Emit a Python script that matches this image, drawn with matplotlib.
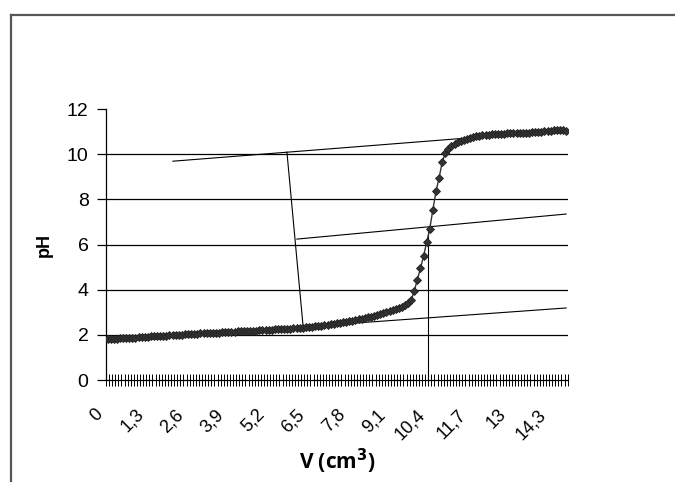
import numpy as np
import matplotlib
matplotlib.use("Agg")
import matplotlib.pyplot as plt
from matplotlib.lines import Line2D
from matplotlib.transforms import ScaledTranslation

# pH readings, one per 0,1 cm3 added (0 .. 14,8 cm3)
ph = [
    1.80, 1.81, 1.82, 1.83, 1.84, 1.85, 1.86, 1.86, 1.87, 1.88,
    1.89, 1.90, 1.91, 1.92, 1.93, 1.93, 1.94, 1.95, 1.96, 1.97,
    1.98, 1.99, 2.00, 2.00, 2.01, 2.02, 2.03, 2.04, 2.04, 2.05,
    2.06, 2.07, 2.07, 2.08, 2.09, 2.10, 2.10, 2.11, 2.12, 2.13,
    2.13, 2.14, 2.15, 2.16, 2.16, 2.17, 2.18, 2.19, 2.19, 2.20,
    2.21, 2.22, 2.22, 2.23, 2.24, 2.25, 2.25, 2.26, 2.27, 2.28,
    2.29, 2.30, 2.31, 2.32, 2.34, 2.35, 2.36, 2.38, 2.40, 2.41,
    2.43, 2.45, 2.47, 2.49, 2.51, 2.53, 2.55, 2.57, 2.60, 2.62,
    2.65, 2.68, 2.71, 2.74, 2.77, 2.81, 2.84, 2.88, 2.92, 2.96,
    3.00, 3.04, 3.09, 3.14, 3.19, 3.25, 3.32, 3.40, 3.55, 3.95,
    4.45, 4.95, 5.50, 6.10, 6.70, 7.55, 8.35, 8.95, 9.65, 10.05,
    10.25, 10.38, 10.47, 10.54, 10.60, 10.65, 10.69, 10.73, 10.76, 10.79,
    10.82, 10.84, 10.86, 10.87, 10.88, 10.89, 10.90, 10.91, 10.91, 10.92,
    10.93, 10.93, 10.94, 10.94, 10.95, 10.96, 10.96, 10.97, 10.98, 10.99,
    11.00, 11.01, 11.02, 11.04, 11.05, 11.06, 11.06, 11.05, 11.04,
]

# category labels shown on the x axis (every 13th point)
vol_labels = ["0", "1,3", "2,6", "3,9", "5,2", "6,5", "7,8", "9,1",
              "10,4", "11,7", "13", "14,3"]

# construction lines (volume cm3, pH) start -> end
tangent_low = [(-0.05, 1.73), (14.8, 3.19)]
tangent_high = [(2.11, 9.69), (14.8, 11.06)]
mid_line = [(6.11, 6.24), (14.8, 7.35)]
perp_line = [(5.79, 10.09), (6.31, 2.40)]
equiv_line = [(10.34, 0.0), (10.34, 6.78)]

y_ticks = [0, 2, 4, 6, 8, 10, 12]

fig = plt.figure(figsize=(6.75, 4.82), dpi=100)
ax = fig.add_axes([0.157, 0.2116, 0.684, 0.5622])

n = len(ph)
idx = np.arange(n)

# gridlines
for yv in y_ticks[1:-1]:
    ax.axhline(yv, color="black", lw=0.9, zorder=1)

# construction lines (category axis -> index = volume*10)
for seg in [tangent_low, tangent_high, mid_line, perp_line, equiv_line]:
    xs = [p[0] * 10 for p in seg]
    ys = [p[1] for p in seg]
    ax.plot(xs, ys, color="black", lw=0.8, zorder=2)

ax.plot(idx, ph, color="#333333", lw=1.0, marker="D", markersize=3.8,
        markerfacecolor="#333333", markeredgecolor="#222222",
        markeredgewidth=0.6, zorder=3)

ax.set_xlim(-0.5, n - 0.5)
ax.set_ylim(0, 12)

ax.spines["top"].set_visible(False)
ax.spines["right"].set_visible(False)
ax.spines["left"].set_linewidth(0.9)
ax.spines["bottom"].set_linewidth(0.9)

ax.set_yticks(y_ticks)
ax.set_yticklabels([str(v) for v in y_ticks])
ax.tick_params(axis="y", direction="out", length=6.5, width=0.9, pad=6,
               labelsize=14)

label_pos = [round(float(s.replace(",", ".")) * 10) for s in vol_labels]
ax.set_xticks(label_pos)
ax.set_xticklabels(vol_labels, rotation=45, ha="right", va="center",
                   rotation_mode="anchor")
ax.tick_params(axis="x", which="major", length=0, pad=23, labelsize=13)
ax.set_xticks(np.arange(n + 1) - 0.5, minor=True)
ax.tick_params(axis="x", which="minor", direction="inout", length=8.5,
               width=0.7)

shift = ScaledTranslation(-5 / 72, 0, fig.dpi_scale_trans)
for lab in ax.get_xticklabels():
    lab.set_transform(lab.get_transform() + shift)
for lab in ax.get_xticklabels() + ax.get_yticklabels():
    lab.set_fontfamily("Liberation Sans")

ax.set_ylabel("pH", fontsize=13, fontweight="bold", family="Liberation Sans",
              labelpad=10)
ax.set_xlabel(r"V (cm$^{\mathbf{3}}$)", fontsize=15, fontweight="bold",
              family="Open Sans", labelpad=3)

# outer frame (left and top edges only)
fig.add_artist(Line2D([11 / 675, 11 / 675], [0, 1 - 15 / 482],
                      transform=fig.transFigure, color="#555555", lw=1.6))
fig.add_artist(Line2D([11 / 675, 1], [1 - 15 / 482, 1 - 15 / 482],
                      transform=fig.transFigure, color="#555555", lw=1.6))

fig.savefig("out.png", dpi=100)
